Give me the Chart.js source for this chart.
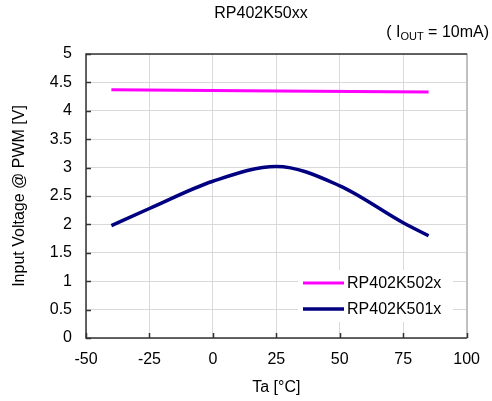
<!DOCTYPE html>
<html>
<head>
<meta charset="utf-8">
<script src="https://cdn.jsdelivr.net/npm/chart.js@4"></script>
<style>
body { margin: 0; background: #fff; }
</style>
</head>
<body>
<canvas id="myChart" width="492" height="401"></canvas>
<script>
// data
var temps502 = [-40, 25, 85];
var volts502 = [4.37, 4.35, 4.33];
var temps501 = [-40, -25, 0, 25, 50, 75, 85];
var volts501 = [1.98, 2.28, 2.76, 3.02, 2.68, 2.03, 1.80];
var xTicks = [-50, -25, 0, 25, 50, 75, 100];
var yTicks = [0, 0.5, 1, 1.5, 2, 2.5, 3, 3.5, 4, 4.5, 5];
var names = ['RP402K502x', 'RP402K501x'];

var font = "'Liberation Sans', Arial, sans-serif";

function pts(xs, ys) {
    var out = [];
    for (let i = 0; i < xs.length; i++) {
        out.push({ x: xs[i], y: ys[i] });
    }
    return out;
}

// titles, frame, inward ticks and the boxed legend
var extras = {
    id: 'extras',
    afterDraw: function (chart) {
        var c = chart.ctx;
        var a = chart.chartArea;
        var xs = chart.scales.x;
        var ys = chart.scales.y;
        c.save();

        // frame
        c.lineWidth = 1;
        c.strokeStyle = '#9a9a9a';
        c.beginPath();
        c.moveTo(a.right + 0.5, a.top);
        c.lineTo(a.right + 0.5, a.bottom);
        c.stroke();
        c.strokeStyle = '#333';
        c.lineWidth = 1.5;
        c.beginPath();
        c.moveTo(a.right + 0.5, a.top);
        c.lineTo(a.left, a.top);
        c.lineTo(a.left, a.bottom);
        c.lineTo(a.right + 0.5, a.bottom);
        c.stroke();

        // tick marks pointing inwards
        c.beginPath();
        yTicks.forEach(function (v) {
            var p = Math.round(ys.getPixelForValue(v)) + 0.5;
            c.moveTo(a.left, p);
            c.lineTo(a.left + 5, p);
        });
        xTicks.forEach(function (v) {
            var p = Math.round(xs.getPixelForValue(v)) + 0.5;
            c.moveTo(p, a.bottom);
            c.lineTo(p, a.bottom - 5);
        });
        c.stroke();

        // title
        c.fillStyle = '#000';
        c.font = '16px ' + font;
        c.textAlign = 'center';
        c.textBaseline = 'middle';
        c.fillText('RP402K50xx', 261, 14);

        // ( IOUT = 10mA) with subscript
        var s1 = '( I', s2 = 'OUT', s3 = ' = 10mA)';
        c.textAlign = 'left';
        c.font = '16px ' + font;
        var w1 = c.measureText(s1).width;
        var w3 = c.measureText(s3).width;
        c.font = '11px ' + font;
        var w2 = c.measureText(s2).width;
        var x0 = 489 - w1 - w2 - w3;
        c.font = '16px ' + font;
        c.fillText(s1, x0, 33);
        c.fillText(s3, x0 + w1 + w2, 33);
        c.font = '11px ' + font;
        c.fillText(s2, x0 + w1, 37);

        // legend
        c.fillStyle = '#fff';
        c.fillRect(298, 270, 155, 52);
        var ly = [283, 309];
        chart.data.datasets.forEach(function (ds, i) {
            c.strokeStyle = ds.borderColor;
            c.lineWidth = ds.borderWidth;
            c.beginPath();
            c.moveTo(303, ly[i]);
            c.lineTo(344, ly[i]);
            c.stroke();
            c.fillStyle = '#000';
            c.font = '16px ' + font;
            c.textBaseline = 'middle';
            c.fillText(ds.label, 347, ly[i] + 1);
        });

        c.restore();
    }
};

let ctx = document.getElementById('myChart').getContext('2d');
let myChart = new Chart(ctx, {
    type: 'line',
    data: {
        datasets: [{
            label: names[0],
            data: pts(temps502, volts502),
            borderColor: '#ff00ff',
            backgroundColor: '#ff00ff',
            borderWidth: 3,
            pointRadius: 0,
            fill: false
        }, {
            label: names[1],
            data: pts(temps501, volts501),
            borderColor: '#000080',
            backgroundColor: '#000080',
            borderWidth: 3.5,
            pointRadius: 0,
            cubicInterpolationMode: 'monotone',
            fill: false
        }]
    },
    options: {
        responsive: false,
        animation: false,
        layout: {
            padding: { top: 54, right: 21, left: 0, bottom: 0 }
        },
        plugins: {
            legend: { display: false },
            tooltip: { enabled: false }
        },
        scales: {
            x: {
                type: 'linear',
                min: -50,
                max: 100,
                afterFit: function (scale) { scale.height = 63; },
                afterBuildTicks: function (scale) {
                    scale.ticks = xTicks.map(function (v) { return { value: v }; });
                },
                grid: { color: '#d9d9d9', drawTicks: false },
                border: { display: false },
                ticks: {
                    padding: 12,
                    color: '#000',
                    maxRotation: 0,
                    callback: function (v) { return String(v); },
                    font: { family: font, size: 16 }
                },
                title: {
                    display: true,
                    text: 'Ta [°C]',
                    color: '#000',
                    padding: { top: 6 },
                    font: { family: font, size: 16 }
                }
            },
            y: {
                min: 0,
                max: 5,
                afterFit: function (scale) { scale.width = 86; },
                afterBuildTicks: function (scale) {
                    scale.ticks = yTicks.map(function (v) { return { value: v }; });
                },
                grid: { color: '#d9d9d9', drawTicks: false },
                border: { display: false },
                ticks: {
                    padding: 14,
                    color: '#000',
                    callback: function (v) { return String(v); },
                    font: { family: font, size: 16 }
                },
                title: {
                    display: true,
                    text: 'Input Voltage @ PWM [V]',
                    color: '#000',
                    padding: { top: 10 },
                    font: { family: font, size: 16 }
                }
            }
        }
    },
    plugins: [extras]
});
</script>
</body>
</html>
